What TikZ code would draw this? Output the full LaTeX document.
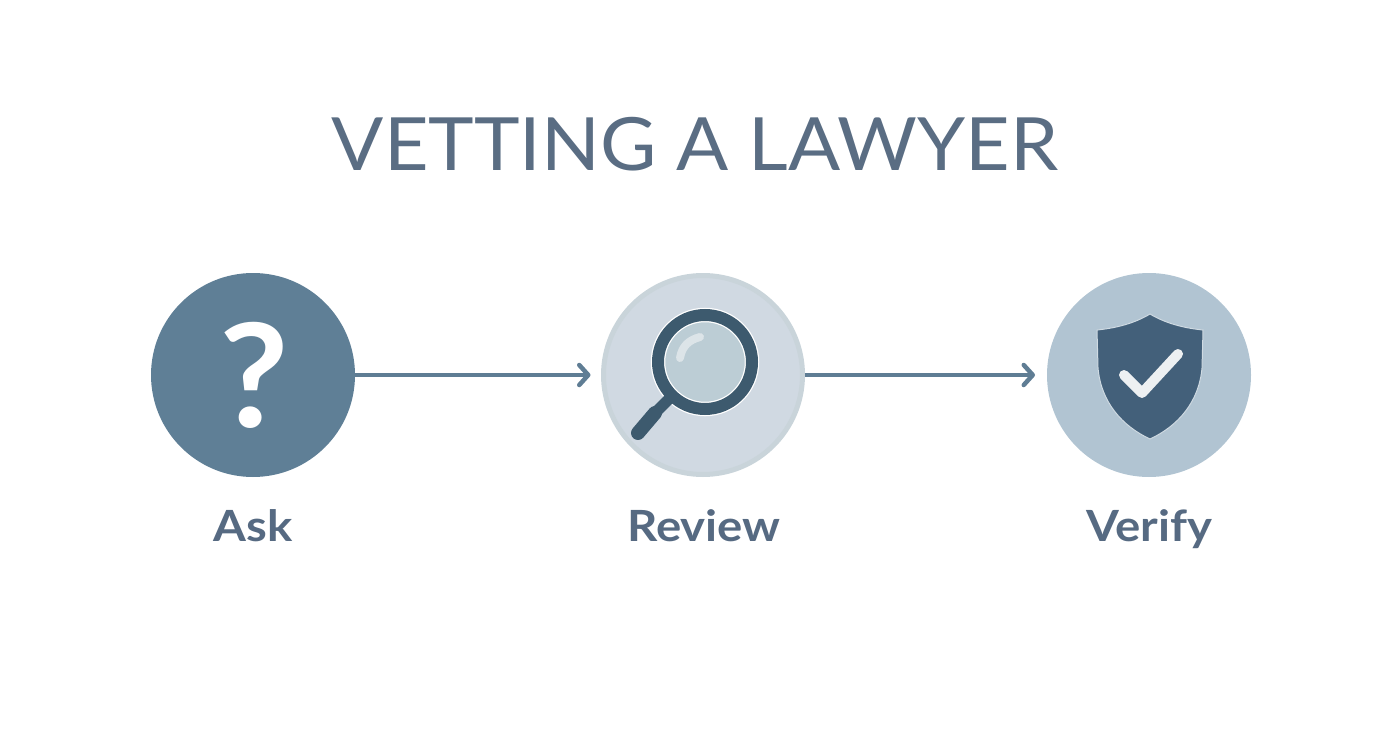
\documentclass[tikz,border=0pt]{standalone}
\usepackage{fontspec}
\setmainfont{Lato}
\newfontfamily\wideface[FakeStretch=1.05]{Lato}
\newfontfamily\labelface[FakeStretch=1.1]{Lato}
\newfontfamily\markface[FakeStretch=1.05]{Lato}
\usetikzlibrary{arrows.meta, calc}
\definecolor{askfill}{HTML}{5F7F96}
\definecolor{arrowline}{HTML}{5F7D94}
\definecolor{reviewfill}{HTML}{D0D9E2}
\definecolor{reviewrim}{HTML}{C9D4DA}
\definecolor{verifyfill}{HTML}{B1C4D2}
\definecolor{shielddark}{HTML}{43607A}
\definecolor{glassdark}{HTML}{3D5A6E}
\definecolor{glassfill}{HTML}{BCCDD5}
\definecolor{titleink}{HTML}{5A6D83}
\definecolor{labelink}{HTML}{566A82}
\definecolor{tickwhite}{HTML}{EDF0F2}
\tikzset{
    stepcircle/.style = {circle, minimum size = 204pt, inner sep = 0pt, outer sep = 0pt},
    steplabel/.style = {text = labelink, font = \labelface\fontsize{43}{46}\selectfont\bfseries, anchor = base},
    steparrow/.style = {draw = arrowline, line width = 4pt, -{Straight Barb[round, length = 9pt, width = 20pt, line width = 4.5pt]}}
}
\begin{document}
\begin{tikzpicture}[x = 1pt, y = -1pt]
        \useasboundingbox (0,0) rectangle (1392,752);

        \node (title) [text = titleink, font = \wideface\fontsize{73.5}{80}\selectfont, anchor = base] at (695,170) {VETTING A LAWYER};

        \node (ask) [stepcircle, fill = askfill] at (253,375) {};
        \node (review) [stepcircle, fill = reviewfill, draw = reviewrim, line width = 5pt, minimum size = 199pt] at (703,375) {};
        \node (verify) [stepcircle, fill = verifyfill] at (1149,375) {};

        \foreach \name/\x/\word in {asklabel/253/Ask, reviewlabel/704/Review, verifylabel/1149/Verify}
        {
            \node (\name) [steplabel] at (\x,541) {\word};
        }

        \draw [steparrow, shorten > = 13pt] (ask) -- (review);
        \draw [steparrow, shorten > = 12pt, shorten < = 2pt] (review) -- (verify);

        % question mark
        \node (askmark) [text = white, font = \markface\fontsize{144}{150}\selectfont\bfseries, anchor = base] at (254,427) {?};

        % magnifier
        \draw [glassdark, line width = 14pt, line cap = round] (655,413) -- (638,433);
        \filldraw [fill = glassfill, draw = white, line width = 14.5pt] (705,362) circle (47pt);
        \draw [glassdark, line width = 12pt] (705,362) circle (47pt);
        \draw [glassdark, line width = 11pt] (670,398) -- (653,415);
        \draw [color = tickwhite!65!glassfill, line width = 8pt, line cap = round] (680,358) .. controls (682,346) and (689,340) .. (700,337);

        % shield
        \draw [fill = shielddark, draw = tickwhite!50!verifyfill, line width = 1pt] (1150,314) .. controls (1135,323) and (1117,328) .. (1097,330)
            -- (1098,368) .. controls (1101,402) and (1122,426) .. (1150,439)
            .. controls (1178,426) and (1199,402) .. (1202,368) -- (1203,330)
            .. controls (1183,328) and (1165,323) .. (1150,314) -- cycle;
        \draw [tickwhite, line width = 10pt, line cap = round, line join = round] (1124,375) -- (1142,393) -- (1178,354);
\end{tikzpicture}
\end{document}
